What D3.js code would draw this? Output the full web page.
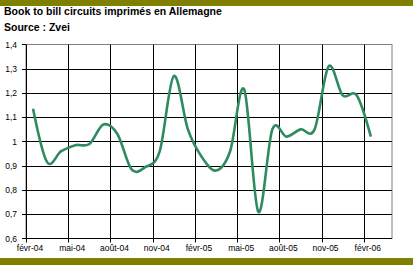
<!DOCTYPE html>
<html>
<head>
<meta charset="utf-8">
<script src="https://cdn.jsdelivr.net/npm/d3@7"></script>
<style>
  body { margin: 0; background: #fff; }
  svg { display: block; font-family: "Liberation Sans", Arial, sans-serif; }
</style>
</head>
<body>
<svg id="chart"></svg>
<script>
let width = 413;
let height = 265;

// monthly book-to-bill, févr-04 .. févr-06
let months = [
  'févr-04', 'mars-04', 'avr-04', 'mai-04', 'juin-04', 'juil-04', 'août-04', 'sept-04',
  'oct-04', 'nov-04', 'déc-04', 'janv-05', 'févr-05', 'mars-05', 'avr-05', 'mai-05',
  'juin-05', 'juil-05', 'août-05', 'sept-05', 'oct-05', 'nov-05', 'déc-05', 'janv-06', 'févr-06'
];
let values = [
  1.135, 0.915, 0.96, 0.985, 0.99, 1.07, 1.03, 0.885,
  0.895, 0.96, 1.27, 1.05, 0.935, 0.88, 0.96, 1.215,
  0.71, 1.05, 1.02, 1.05, 1.05, 1.31, 1.19, 1.19, 1.02
];
let yTicks = [0.6, 0.7, 0.8, 0.9, 1, 1.1, 1.2, 1.3, 1.4];
let yTickLabels = ['0,6', '0,7', '0,8', '0,9', '1', '1,1', '1,2', '1,3', '1,4'];
let xTickIdx = [0, 3, 6, 9, 12, 15, 18, 21, 24];
let xTickLabels = ['févr-04', 'mai-04', 'août-04', 'nov-04', 'févr-05', 'mai-05', 'août-05', 'nov-05', 'févr-06'];

let plot = { left: 26, right: 392, top: 44.5, bottom: 238.5 };

let svg = d3.select('#chart').attr('width', width).attr('height', height);

// olive bands top and bottom
svg.append('rect').attr('x', 0).attr('y', 0).attr('width', width).attr('height', 6).attr('fill', '#808000');
svg.append('rect').attr('x', 0).attr('y', 258).attr('width', width).attr('height', 7).attr('fill', '#808000');

svg.append('text').attr('x', 4).attr('y', 15)
  .attr('font-size', 10.5).attr('font-weight', 'bold')
  .text('Book to bill circuits imprimés en Allemagne');
svg.append('text').attr('x', 4).attr('y', 30.5)
  .attr('font-size', 10.5).attr('font-weight', 'bold')
  .text('Source : Zvei');

let x = d3.scaleLinear().domain([0, 26]).range([plot.left, plot.right]);
let y = d3.scaleLinear().domain([0.6, 1.4]).range([plot.bottom, plot.top]);

// plot frame (grey top/right)
svg.append('rect')
  .attr('x', plot.left).attr('y', plot.top)
  .attr('width', plot.right - plot.left).attr('height', plot.bottom - plot.top)
  .attr('fill', 'none').attr('stroke', '#808080');

// horizontal grid + ticks
svg.append('g').selectAll('line')
  .data(yTicks.filter(d => d < 1.4 && d > 0.6))
  .enter().append('line')
  .attr('x1', plot.left - 4).attr('x2', plot.right)
  .attr('y1', d => Math.round(y(d)) + 0.5).attr('y2', d => Math.round(y(d)) + 0.5)
  .attr('stroke', '#000');

// vertical grid + ticks
svg.append('g').selectAll('line')
  .data(xTickIdx.filter(d => d > 0))
  .enter().append('line')
  .attr('x1', d => Math.round(x(d)) + 0.5).attr('x2', d => Math.round(x(d)) + 0.5)
  .attr('y1', plot.top).attr('y2', plot.bottom + 4)
  .attr('stroke', '#000');

// tick stub at top of value axis
svg.append('line').attr('x1', plot.left - 4).attr('x2', plot.left).attr('y1', plot.top).attr('y2', plot.top).attr('stroke', '#000');

// axes
svg.append('line').attr('x1', plot.left - 4).attr('x2', plot.right).attr('y1', plot.bottom).attr('y2', plot.bottom).attr('stroke', '#000');
svg.append('line').attr('x1', plot.left + 0.5).attr('x2', plot.left + 0.5).attr('y1', plot.top).attr('y2', plot.bottom + 4).attr('stroke', '#000');

svg.append('g').selectAll('text')
  .data(yTicks)
  .enter().append('text')
  .attr('x', 17).attr('y', d => y(d) + 3)
  .attr('text-anchor', 'end').attr('font-size', 8.5)
  .text((d, i) => yTickLabels[i]);

svg.append('g').selectAll('text')
  .data(xTickIdx)
  .enter().append('text')
  .attr('x', d => x(d) + 4).attr('y', 251)
  .attr('text-anchor', 'middle').attr('font-size', 8.5)
  .text((d, i) => xTickLabels[i]);

let line = d3.line()
  .x((d, i) => x(i + 0.5))
  .y(d => y(d))
  .curve(d3.curveCardinal.tension(0));

svg.append('path')
  .datum(values)
  .attr('d', line)
  .attr('fill', 'none')
  .attr('stroke', '#2e8b60')
  .attr('stroke-width', 2.6)
  .attr('stroke-linejoin', 'round');
</script>
</body>
</html>
